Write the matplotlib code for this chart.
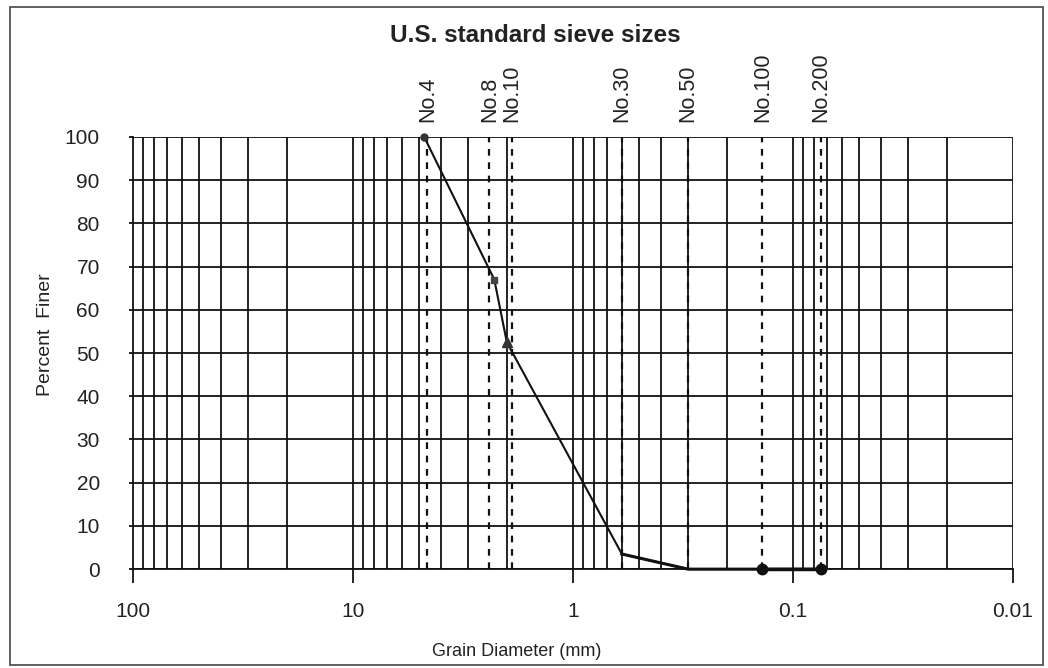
import matplotlib
matplotlib.use("Agg")
import matplotlib.pyplot as plt
from matplotlib.patches import Rectangle
import numpy as np

plt.rcParams['font.family'] = ['Liberation Sans', 'DejaVu Sans']

# Data
grain_diam = [4.75, 2.28, 2.0, 0.6, 0.3, 0.138, 0.075]
percent_finer = [100, 67, 52.5, 3.5, 0, 0, 0]
sieve_names = ["No.4", "No.8", "No.10", "No.30", "No.50", "No.100", "No.200"]
sieve_sizes = [4.6, 2.4, 1.9, 0.6, 0.3, 0.138, 0.075]
x_ticks = [100, 10, 1, 0.1, 0.01]
x_ticklabels = ["100", "10", "1", "0.1", "0.01"]
y_ticks = list(range(0, 101, 10))

fig = plt.figure(figsize=(10.48, 6.68), dpi=100)
ax = fig.add_axes([0.127, 0.148, 0.8396, 0.647])
ax.set_xscale('log')
ax.set_xlim(100, 0.01)
ax.set_ylim(0, 100)

lc = '#111111'
tc = '#222222'
# vertical grid at log minors
for dec in [10, 1, 0.1, 0.01]:
    for m in range(1, 10):
        v = dec * m
        if 0.01 <= v <= 100:
            ax.axvline(v, color=lc, lw=1.3, zorder=1)
for y in y_ticks:
    ax.axhline(y, color=lc, lw=1.3, zorder=1)

# sieve dashed lines
for s in sieve_sizes:
    ax.plot([s, s], [0, 100], color=lc, lw=1.6, ls=(0, (3, 3)), zorder=2)

ax.plot(grain_diam, percent_finer, color=lc, lw=1.5, zorder=3, clip_on=False)
ax.plot(grain_diam[3:], percent_finer[3:], color=lc, lw=2.2, zorder=3, clip_on=False)
ax.plot(grain_diam[0], percent_finer[0], marker='o', ms=5, color='#333333', zorder=4, clip_on=False)
ax.plot(grain_diam[1], percent_finer[1], marker='s', ms=4, color='#444444', zorder=4, clip_on=False)
ax.plot(grain_diam[2], percent_finer[2], marker='^', ms=7, color='#333333', zorder=4, clip_on=False)
ax.plot(grain_diam[5:], percent_finer[5:], marker='o', ms=7.5, color=lc, lw=2.5,
        zorder=4, clip_on=False)

for sp in ['top', 'right']:
    ax.spines[sp].set_visible(False)
for sp in ['left', 'bottom']:
    ax.spines[sp].set_color(lc)
    ax.spines[sp].set_linewidth(1.3)

ax.set_xticks(x_ticks)
ax.set_xticklabels(x_ticklabels)
ax.xaxis.set_minor_locator(matplotlib.ticker.NullLocator())
ax.tick_params(axis='x', direction='out', length=10, width=1.3, color=lc,
               labelsize=15, pad=14, labelcolor=tc)
ax.set_yticks(y_ticks)
ax.tick_params(axis='y', direction='out', length=3, width=1.3, color=lc,
               labelsize=15, pad=21, labelcolor=tc)

fig.text(517 / 1048, 1 - 651 / 668, "Grain Diameter (mm)", ha='center', va='center',
         fontsize=13, color=tc)
fig.text(45 / 1048, 1 - 335 / 668, "Percent  Finer", ha='center', va='center',
         rotation=90, fontsize=14, color=tc)

# sieve labels
for name, s in zip(sieve_names, sieve_sizes):
    ax.text(s, 103.5, name, rotation=90, ha='center', va='bottom',
            fontsize=15.5, color=tc, clip_on=False)

fig.text(535 / 1048, 1 - 36 / 668, "U.S. standard sieve sizes", ha='center', va='center',
         fontsize=17.5, fontweight='bold', color=tc)

# figure frame
fig.patches.append(Rectangle((0.01, 0.005), 0.985, 0.985, transform=fig.transFigure,
                             fill=False, edgecolor='#444444', lw=1.2))

fig.savefig("out.png", dpi=100)
